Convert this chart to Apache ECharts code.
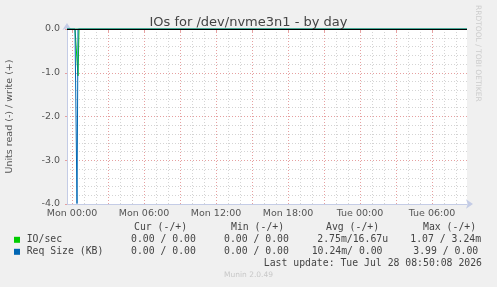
<!DOCTYPE html>
<html><head><meta charset="utf-8">
<script src="https://cdn.jsdelivr.net/npm/echarts@6/dist/echarts.min.js"></script>
<style>html,body{margin:0;padding:0;background:#f0f0f0}#c{width:497px;height:287px}</style>
</head><body><div id="c"></div>
<script>
// time in minutes from Mon 00:00
const times = [-25, 15, 20, 25, 30, 35, 1975];
const ioRead = [0, 0, 0, 0, -1.07, 0, 0];
const ioWrite = [0, 0, 0, 0, 0.00324, 0, 0];
const reqRead = [0, 0, 0, -3.99, 0, 0, 0];
const reqWrite = [0, 0, 0, 0, 0, 0, 0];
const xTickMinutes = [0, 360, 720, 1080, 1440, 1800];
const xTickLabels = ['Mon 00:00', 'Mon 06:00', 'Mon 12:00', 'Mon 18:00', 'Tue 00:00', 'Tue 06:00'];
const yTicks = [0, -1, -2, -3, -4];
const legendNames = ['IO/sec', 'Req Size (KB)'];
const legendColors = ['#00cc00', '#0066b3'];
const curVals = ['0.00 / 0.00', '0.00 / 0.00'];
const minVals = ['0.00 / 0.00', '0.00 / 0.00'];
const avgVals = ['2.75m/16.67u', '10.24m/ 0.00'];
const maxVals = ['1.07 / 3.24m', '3.99 / 0.00'];
const lastUpdate = 'Last update: Tue Jul 28 08:50:08 2026';

const chart = echarts.init(document.getElementById('c'));
const pair = (ys) => times.map((t, i) => [t, ys[i]]);
// plot: 400px for 2000 minutes (5 min per px), Mon 00:00 at 5px from left edge
const PL = 67, PW = 400, XMIN = -25, XMAX = 1975;
const pxPerMin = PW / (XMAX - XMIN);
const gridFor = (maxMin) => ({left: PL + (0 - XMIN) * pxPerMin, width: maxMin * pxPerMin, top: 29, bottom: 83, outerBoundsMode: 'none', show: false});
const axisBlue = '#c4cce6';
const gridRed = '#e6a0a0';
const gridGray = '#d4d4d4';
const mono = 'DejaVu Sans Mono';
const txtColor = '#444';

const graphics = [];
const hdr = [['Cur (-/+)', 134], ['Min (-/+)', 231], ['Avg (-/+)', 326], ['Max (-/+)', 423]];
hdr.forEach(h => graphics.push({type: 'text', left: h[1], top: 222, style: {text: h[0], font: '9.8px ' + mono, fill: txtColor}}));
const avgX = [317.3, 311.7], maxX = [410.3, 413.3];
legendNames.forEach((n, i) => {
  const y = 234.5 + i * 12;
  graphics.push({type: 'rect', shape: {x: 14, y: y + 2.3, width: 6, height: 6}, style: {fill: legendColors[i]}});
  graphics.push({type: 'text', left: 26.7, top: y, style: {text: n, font: '9.8px ' + mono, fill: txtColor}});
  graphics.push({type: 'text', left: 131, top: y, style: {text: curVals[i], font: '9.8px ' + mono, fill: txtColor}});
  graphics.push({type: 'text', left: 224, top: y, style: {text: minVals[i], font: '9.8px ' + mono, fill: txtColor}});
  graphics.push({type: 'text', left: avgX[i], top: y, style: {text: avgVals[i], font: '9.8px ' + mono, fill: txtColor}});
  graphics.push({type: 'text', left: maxX[i], top: y, style: {text: maxVals[i], font: '9.8px ' + mono, fill: txtColor}});
});
graphics.push({type: 'text', right: 15, top: 258, style: {text: lastUpdate, font: '9.8px ' + mono, fill: txtColor}});
graphics.push({type: 'text', left: 'center', top: 271.5, style: {text: 'Munin 2.0.49', font: '7.5px DejaVu Sans', fill: '#c8c8c8'}});
graphics.push({type: 'text', x: 482, y: 5, rotation: -Math.PI / 2, style: {text: 'RRDTOOL / TOBI OETIKER', font: '7.5px DejaVu Sans', fill: '#cccccc'}});

const yBase = {type: 'value', min: -4, max: 0, position: 'left', offset: 0};
const yHidden = (gi) => Object.assign({}, yBase, {gridIndex: gi, show: false, splitLine: {show: false}});

chart.setOption({
  animation: false,
  backgroundColor: '#f0f0f0',
  title: {text: 'IOs for /dev/nvme3n1 - by day', left: 'center', top: 11,
    textStyle: {fontFamily: 'DejaVu Sans', fontSize: 13, fontWeight: 'normal', color: '#444'}},
  grid: [
    {left: PL, width: PW, top: 29, bottom: 83, outerBoundsMode: 'none', show: true, backgroundColor: '#ffffff', borderWidth: 0},
    gridFor(1920),
    gridFor(1800)
  ],
  xAxis: [
    {type: 'value', gridIndex: 0, min: XMIN, max: XMAX, position: 'bottom', splitLine: {show: false}, axisLabel: {show: false}, axisTick: {show: false},
      axisLine: {show: true, onZero: false, symbol: ['none', 'arrow'], symbolSize: [7, 7], symbolOffset: [0, 6], lineStyle: {color: axisBlue, width: 1}}},
    {type: 'value', gridIndex: 1, min: 0, max: 1920, interval: 60, position: 'bottom',
      splitLine: {show: true, lineStyle: {color: gridGray, type: [1, 2]}}, axisLabel: {show: false}, axisTick: {show: false}, axisLine: {show: false}},
    {type: 'value', gridIndex: 2, min: 0, max: 1800, interval: 180, position: 'bottom',
      splitLine: {show: true, lineStyle: {color: gridRed, type: [1, 2]}}, axisLine: {show: false},
      axisTick: {show: true, length: 3, lineStyle: {color: gridRed}}, axisLabel: {show: false}},
    {type: 'value', gridIndex: 2, min: 0, max: 1800, interval: 360, position: 'bottom', offset: 0,
      splitLine: {show: false}, axisLine: {show: false}, axisTick: {show: false},
      axisLabel: {show: true, margin: 5, fontFamily: 'DejaVu Sans', fontSize: 9.5, color: '#555',
        formatter: v => { const k = xTickMinutes.indexOf(v); return k >= 0 ? xTickLabels[k] : ''; }}}
  ],
  yAxis: [
    Object.assign({}, yBase, {gridIndex: 0, interval: 0.2, splitLine: {show: true, lineStyle: {color: gridGray, type: [1, 2]}},
      axisLabel: {show: false}, axisTick: {show: false}, axisLine: {show: false}}),
    Object.assign({}, yBase, {gridIndex: 0, interval: 1, splitLine: {show: true, lineStyle: {color: gridRed, type: [1, 2]}},
      axisTick: {show: true, length: 2, lineStyle: {color: gridRed}},
      axisLine: {show: true, onZero: false, symbol: ['none', 'arrow'], symbolSize: [7, 7], symbolOffset: [0, 6], lineStyle: {color: axisBlue, width: 1}},
      axisLabel: {show: true, margin: 7, fontFamily: 'DejaVu Sans', fontSize: 9.5, color: '#555',
        formatter: v => yTicks.indexOf(v) >= 0 ? v.toFixed(1) : ''},
      name: 'Units read (-) / write (+)', nameLocation: 'middle', nameGap: 52, nameRotate: 90,
      nameTextStyle: {fontFamily: 'DejaVu Sans', fontSize: 9.5, color: '#555'}}),
    yHidden(1),
    yHidden(2)
  ],
  series: [
    {type: 'line', name: 'IO/sec read', xAxisIndex: 0, yAxisIndex: 1, data: pair(ioRead), showSymbol: false, lineStyle: {width: 1, color: legendColors[0]}},
    {type: 'line', name: 'IO/sec write', xAxisIndex: 0, yAxisIndex: 1, data: pair(ioWrite), showSymbol: false, lineStyle: {width: 1, color: legendColors[0]}},
    {type: 'line', name: 'Req read', xAxisIndex: 0, yAxisIndex: 1, data: pair(reqRead), showSymbol: false, lineStyle: {width: 1, color: legendColors[1]}},
    {type: 'line', name: 'Req write', xAxisIndex: 0, yAxisIndex: 1, data: pair(reqWrite), showSymbol: false, lineStyle: {width: 1, color: legendColors[1]},
      markLine: {silent: true, symbol: 'none', label: {show: false}, lineStyle: {color: '#000', width: 1, type: 'solid'}, data: [{yAxis: 0}]}}
  ],
  graphic: graphics
});
</script></body></html>
